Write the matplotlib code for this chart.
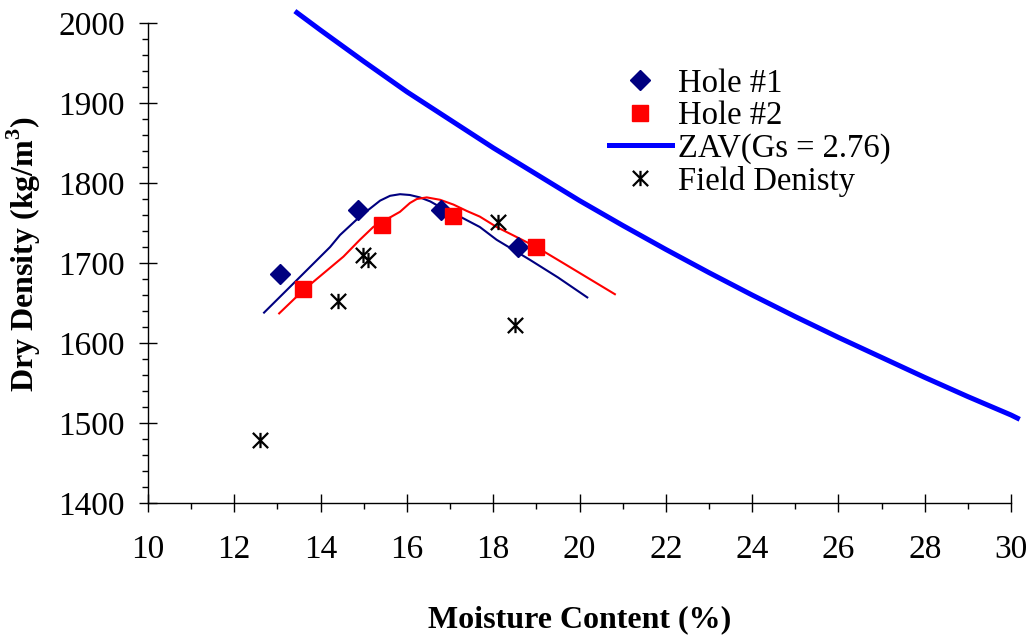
import matplotlib
matplotlib.use('Agg')
import matplotlib.pyplot as plt
from matplotlib.path import Path
from matplotlib.ticker import MultipleLocator

# ─── данные: уплотнение, две скважины + полевая плотность ────────────
HOLE1_W = [13.06, 14.87, 16.79, 18.58]
HOLE1_D = [1686, 1766, 1766, 1720]

HOLE2_W = [13.60, 15.42, 17.06, 19.00]
HOLE2_D = [1667, 1747, 1759, 1720]

# сглаженные кривые уплотнения
FIT1_W = [12.69, 13.40, 14.22, 14.45, 14.91, 15.38, 15.61, 15.84, 16.07, 16.30,
          16.54, 16.77, 17.23, 17.69, 18.08, 18.85, 19.50, 20.18]
FIT1_D = [1638, 1676, 1720, 1735, 1758, 1778, 1784, 1786, 1785, 1782,
          1777, 1770, 1758, 1745, 1729, 1704, 1682, 1657]

FIT2_W = [13.04, 13.60, 14.53, 14.91, 15.22, 15.61, 15.84, 16.07, 16.23, 16.46,
          16.77, 17.08, 17.39, 17.69, 18.08, 19.00, 19.62, 20.82]
FIT2_D = [1637, 1666, 1708, 1729, 1745, 1757, 1764, 1775, 1780, 1782,
          1779, 1773, 1765, 1758, 1745, 1720, 1700, 1661]

# кривая нулевой пористости воздуха (Gs = 2.76)
ZAV_W = [13.45, 14, 15, 16, 17, 18, 19, 20, 21, 22, 23, 24, 25, 26, 27, 28, 29, 30, 30.15]
ZAV_D = [2013, 1991, 1952, 1914, 1879, 1844, 1811, 1778, 1747, 1717, 1688, 1660, 1633, 1607, 1582, 1557, 1533, 1510, 1506]

FIELD_W = [12.60, 14.40, 14.99, 15.09, 18.10, 18.50]
FIELD_D = [1479, 1652, 1710, 1704, 1751, 1623]

# ─── стиль ──────────────────────────────────────────────────────────
SERIF = 'Liberation Serif'
plt.rcParams['font.family'] = SERIF
plt.rcParams['mathtext.fontset'] = 'custom'
plt.rcParams['mathtext.rm'] = SERIF
plt.rcParams['mathtext.bf'] = SERIF + ':bold'

# звёздочка: вертикаль + крест
STAR = Path([(0, -1), (0, 1), (-1, -1), (1, 1), (-1, 1), (1, -1)],
            [Path.MOVETO, Path.LINETO, Path.MOVETO, Path.LINETO, Path.MOVETO, Path.LINETO])

fig = plt.figure(figsize=(10.32, 6.4), dpi=100)
ax = fig.add_axes([148 / 1032, 1 - 503 / 640, 863 / 1032, 480 / 640])

ax.plot(FIT1_W, FIT1_D, color='#000080', lw=1.5, zorder=2)
ax.plot(FIT2_W, FIT2_D, color='#FF0000', lw=1.5, zorder=2)

ax.plot(HOLE1_W, HOLE1_D, ls='none', marker='D', ms=10, color='#000080',
        label='Hole #1', zorder=3)
ax.plot(HOLE2_W, HOLE2_D, ls='none', marker='s', ms=11.5, color='#FF0000',
        label='Hole #2', zorder=3)
ax.plot(ZAV_W, ZAV_D, color='#0000FF', lw=3.6, label='ZAV(Gs = 2.76)',
        clip_on=False, zorder=2)
ax.plot(FIELD_W, FIELD_D, ls='none', marker=STAR, ms=11, mew=1.6,
        color='black', mfc='none', label='Field Denisty', zorder=4)

ax.set_xlim(10, 30)
ax.set_ylim(1400, 2000)
ax.xaxis.set_major_locator(MultipleLocator(2))
ax.xaxis.set_minor_locator(MultipleLocator(1))
ax.yaxis.set_major_locator(MultipleLocator(100))
ax.yaxis.set_minor_locator(MultipleLocator(20))

for side in ('top', 'right'):
    ax.spines[side].set_visible(False)
for side in ('left', 'bottom'):
    ax.spines[side].set_linewidth(1.0)

ax.tick_params(which='major', direction='inout', length=13, width=1.0,
               labelsize=24, color='black')
ax.tick_params(axis='y', which='major', pad=10)
ax.tick_params(axis='x', which='major', pad=16)
ax.tick_params(which='minor', direction='out', length=4.5, width=1.0)

ax.set_xlabel('Moisture Content (%)', fontsize=23, fontweight='bold')
ax.xaxis.set_label_coords(0.5, -0.212)
ax.set_ylabel('Dry Density (kg/m$^{\\mathbf{3}}$)', fontsize=23, fontweight='bold')
ax.yaxis.set_label_coords(-0.122, 0.519)

ax.legend(loc='upper left', bbox_to_anchor=(609 / 1032, 1 - 68 / 640),
          bbox_transform=fig.transFigure, frameon=False, fontsize=23.5,
          handlelength=1.93, handletextpad=0.18, labelspacing=0.06,
          borderpad=0, borderaxespad=0)

fig.savefig('out.png', dpi=100)
